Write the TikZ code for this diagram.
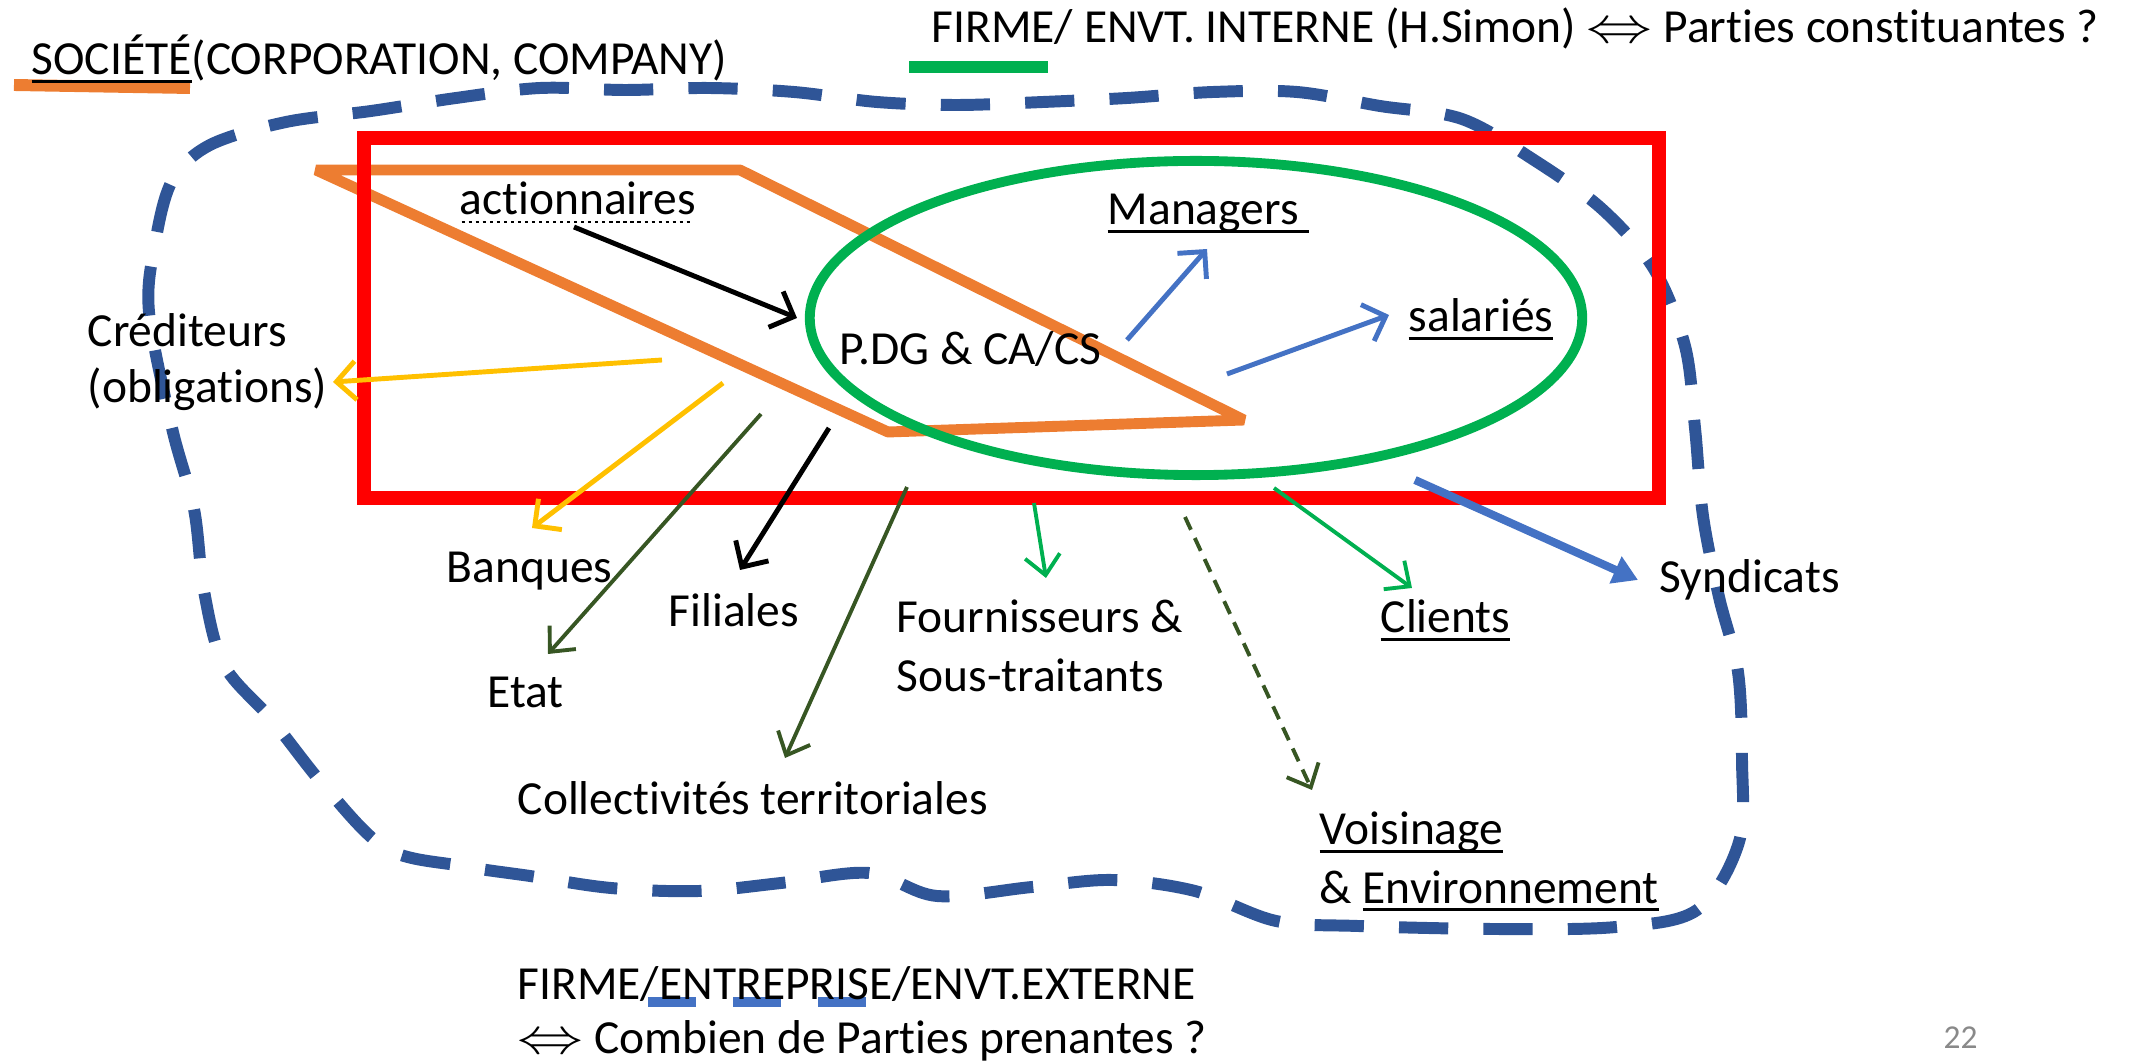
\documentclass[tikz,border=0pt]{standalone}
\usepackage{fontspec}
\setmainfont{Carlito}[Ligatures=NoCommon]
\usepackage{graphicx}
\usetikzlibrary{arrows.meta}

\newcommand\undl[1]{\setbox0\hbox{#1}\rlap{\rule[-2.2pt]{\wd0}{0.9pt}}\box0}
\newcommand\dotundl[1]{\setbox0\hbox{#1}\rlap{\hbox to \wd0{\leaders\hbox to 2pt{\hss\rule[-2.2pt]{0.9pt}{0.5pt}\hss}\hfill}}\box0}

\definecolor{socorange}{HTML}{ED7D31}
\definecolor{firmgreen}{HTML}{00B050}
\definecolor{envblue}{HTML}{2F5597}
\definecolor{pptblue}{HTML}{4472C4}
\definecolor{pptyellow}{HTML}{FFC000}
\definecolor{olivegreen}{HTML}{375623}
\definecolor{pagegray}{HTML}{898989}

\begin{document}
\begin{tikzpicture}[x=0.01cm, y=-0.01cm,
    font=\fontsize{13.5}{16.5}\selectfont,
    lbl/.style={anchor=base west, inner sep=0pt},
    arr/.style={line width=1.4pt, -{Straight Barb[length=5.5pt,width=11pt]}},
    thinarr/.style={line width=1.1pt, -{Straight Barb[length=5.5pt,width=10pt]}}]
    \useasboundingbox (0,0) rectangle (2129,1061);

    % environnement externe (pointilles bleus)
    \draw[envblue, line width=3.4pt, dash pattern=on 14pt off 10pt]
      plot[smooth cycle, tension=0.55] coordinates {
        (149,312) (172,428) (194,509) (204,591) (224,665) (272,720) (326,788)
        (387,849) (462,866) (530,876) (611,888) (699,891) (781,883) (869,873)
        (937,896) (1032,887) (1113,880) (1195,891) (1276,921) (1358,926)
        (1494,929) (1616,927) (1697,910) (1739,842) (1742,760) (1738,672)
        (1719,597) (1703,516) (1695,428) (1685,346) (1654,269) (1602,209)
        (1534,160) (1462,119) (1380,106) (1297,92) (1213,92) (1127,98)
        (1043,102) (957,105) (877,102) (794,92) (709,88) (625,90) (540,88)
        (456,98) (371,111) (286,122) (210,145) (172,181) (155,244)};

    % societe, firme
    \draw[socorange, line width=3.1pt, line join=bevel]
      (316,170) -- (740,170) -- (1244,420) -- (888,432) -- cycle;
    \draw[red, line width=4pt] (364,138) rectangle (1659,498);
    \draw[firmgreen, line width=2.8pt] (1196,318) ellipse [x radius=3.86cm, y radius=1.57cm];

    % legendes
    \draw[socorange, line width=3.4pt] (14,85) -- (190,88);
    \draw[firmgreen, line width=3.4pt] (909,67) -- (1048,67);
    \draw[pptblue, line width=3.1pt, dash pattern=on 13.7pt off 10.5pt] (648,1002) -- (867,1002);

    \node[lbl] (soc) at (31,75) {\undl{SOCIÉTÉ}(CORPORATION, COMPANY)};
    \node[lbl] (firmint) at (931,43) {FIRME/ ENVT. INTERNE (H.Simon) \scalebox{1.3}[1]{$\Leftrightarrow$} Parties constituantes ?};
    \node[lbl] (act) at (459,215) {\dotundl{actionnaires}};
    \node[lbl] (pdg) at (839,365) {P.DG \& CA/CS};
    \node[lbl] (man) at (1107,225) {\undl{Managers\ }};
    \node[lbl] (sal) at (1408,332) {\undl{salariés}};
    \node[lbl] (cred1) at (87,347) {Créditeurs};
    \node[lbl] (cred2) at (87,403) {(obligations)};
    \node[lbl] (banq) at (446,583) {Banques};
    \node[lbl] (fil) at (668,627) {Filiales};
    \node[lbl] (etat) at (487,708) {Etat};
    \node[lbl] (four1) at (896,633) {Fournisseurs \&};
    \node[lbl] (four2) at (896,692) {Sous-traitants};
    \node[lbl] (coll) at (517,815) {Collectivités territoriales};
    \node[lbl] (cli) at (1380,633) {\undl{Clients}};
    \node[lbl] (synd) at (1659,593) {Syndicats};
    \node[lbl] (vois1) at (1319,845) {\undl{Voisinage}};
    \node[lbl] (vois2) at (1319,903) {\& \undl{Environnement}};
    \node[lbl] (ext1) at (517,1000) {FIRME/ENTREPRISE/ENVT.EXTERNE};
    \node[lbl] (ext2) at (517,1054) {\scalebox{1.3}[1]{$\Leftrightarrow$} Combien de Parties prenantes ?};
    \node[lbl, pagegray, font=\fontsize{9.5}{11}\selectfont] (num) at (1943,1048) {22};

    % depart et pointes des fleches
    \coordinate (sAct) at (574,227);   \coordinate (tPdg) at (797,318);
    \coordinate (sMan) at (1127,340);  \coordinate (tMan) at (1207,249);
    \coordinate (sSal) at (1227,374);  \coordinate (tSal) at (1389,315);
    \coordinate (sCred) at (662,360);  \coordinate (tCred) at (333,382);
    \coordinate (sBanq) at (723,383);  \coordinate (tBanq) at (532,528);
    \coordinate (sEtat) at (761,414);  \coordinate (tEtat) at (548,654);
    \coordinate (sFil) at (829,428);   \coordinate (tFil) at (740,570);
    \coordinate (sColl) at (907,487);  \coordinate (tColl) at (785,758);
    \coordinate (sFour) at (1034,503); \coordinate (tFour) at (1046,578);
    \coordinate (sVois) at (1185,517); \coordinate (tVois) at (1312,790);
    \coordinate (sCli) at (1274,488);  \coordinate (tCli) at (1412,588);
    \coordinate (sSynd) at (1415,480); \coordinate (tSynd) at (1638,580);

    \draw[arr, black] (sAct) -- (tPdg);
    \draw[arr, pptblue] (sMan) -- (tMan);
    \draw[arr, pptblue] (sSal) -- (tSal);
    \draw[arr, pptyellow] (sCred) -- (tCred);
    \draw[arr, pptyellow] (sBanq) -- (tBanq);
    \draw[thinarr, olivegreen] (sEtat) -- (tEtat);
    \draw[arr, black] (sFil) -- (tFil);
    \draw[thinarr, olivegreen] (sColl) -- (tColl);
    \draw[thinarr, firmgreen] (sFour) -- (tFour);
    \draw[thinarr, olivegreen, dash pattern=on 4pt off 2.6pt] (sVois) -- (tVois);
    \draw[thinarr, firmgreen] (sCli) -- (tCli);
    \draw[pptblue, line width=2.3pt, -{Triangle[length=7pt,width=8pt]}] (sSynd) -- (tSynd);
\end{tikzpicture}
\end{document}
